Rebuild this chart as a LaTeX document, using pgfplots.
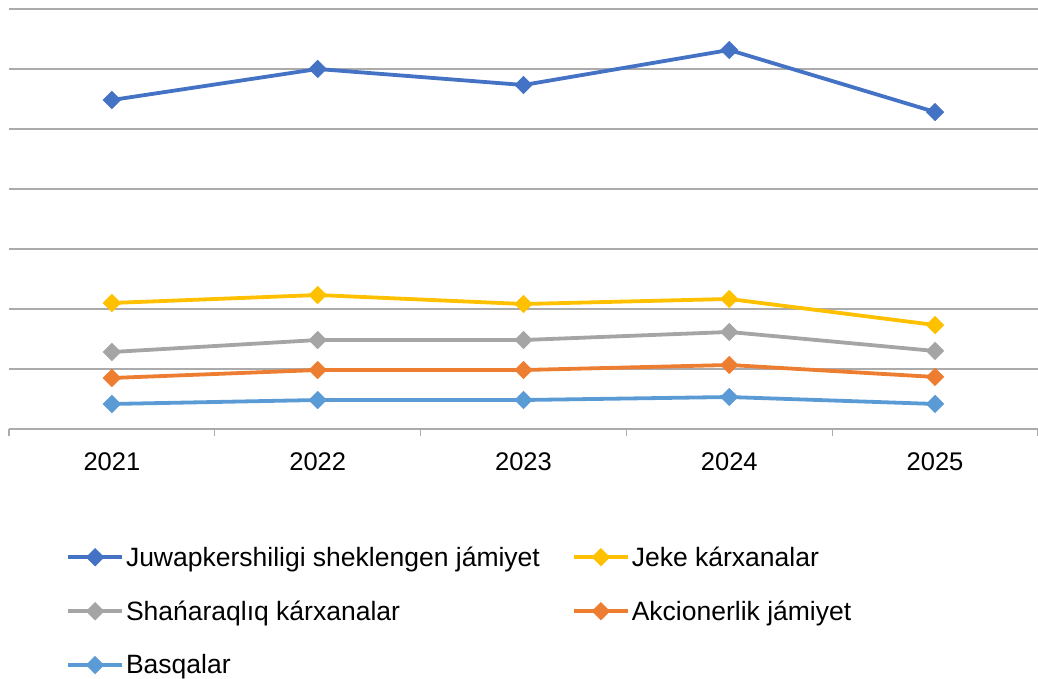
\documentclass[border=0pt]{standalone}
\usepackage{pgfplots}
\pgfplotsset{compat=1.18}
\usepackage{fontspec}
\setmainfont{Liberation Sans}
\definecolor{c1}{HTML}{4472C4}
\definecolor{c2}{HTML}{FFC000}
\definecolor{c3}{HTML}{A5A5A5}
\definecolor{c4}{HTML}{ED7D31}
\definecolor{c5}{HTML}{5B9BD5}
\definecolor{gridc}{HTML}{ABABAB}
\begin{document}
\begin{tikzpicture}[x=1bp,y=1bp]
\path[use as bounding box] (0,0) rectangle (1038,679);
\begin{axis}[
  at={(9bp,250bp)}, anchor=south west,
  scale only axis, width=1029bp, height=420bp,
  xmin=-0.5, xmax=4.5, ymin=0, ymax=7,
  axis line style={draw=none},
  ytick={0,1,...,7}, yticklabels={}, ytick style={draw=none},
  ymajorgrids, grid style={gridc, line width=1.3bp},
  xtick={0,1,2,3,4}, xticklabels={2021,2022,2023,2024,2025},
  xtick pos=bottom,
  major x tick style={draw=none},
  extra x ticks={-0.5,0.5,1.5,2.5,3.5,4.5}, extra x tick labels={},
  extra x tick style={grid=none, tick align=outside, major tick length=7bp,
     major x tick style={draw=gridc, line width=1.3bp}},
  xticklabel style={font=\fontsize{25.5bp}{30bp}\selectfont, yshift=-20bp},
  every axis plot/.append style={line width=3.8bp, mark=square*, mark size=4.6bp,
     mark options={rotate=45, solid}},
  legend columns=2,
  legend cell align=left,
  legend image code/.code={\draw[mark repeat=2,mark phase=2,#1] plot coordinates {(0bp,0bp)(27bp,0bp)(54bp,0bp)};},
  legend style={at={(axis description cs:0.0554,-0.275)}, anchor=north west,
     draw=none, fill=none, font=\fontsize{26.5bp}{30bp}\selectfont,
     row sep=29bp, column sep=0bp, inner sep=0bp,
     nodes={inner sep=2bp}},
]
\addplot[color=c1] coordinates {(0,5.483) (1,6.0) (2,5.733) (3,6.317) (4,5.283)};
\addlegendentry{\makebox[444bp][l]{Juwapkershiligi sheklengen jámiyet}}
\addplot[color=c2] coordinates {(0,2.10) (1,2.233) (2,2.083) (3,2.167) (4,1.733)};
\addlegendentry{Jeke kárxanalar}
\addplot[color=c3] coordinates {(0,1.283) (1,1.483) (2,1.483) (3,1.617) (4,1.30)};
\addlegendentry{\makebox[444bp][l]{Shańaraqlıq kárxanalar}}
\addplot[color=c4] coordinates {(0,0.85) (1,0.983) (2,0.983) (3,1.067) (4,0.867)};
\addlegendentry{Akcionerlik jámiyet}
\addplot[color=c5] coordinates {(0,0.417) (1,0.483) (2,0.483) (3,0.533) (4,0.417)};
\addlegendentry{\makebox[444bp][l]{Basqalar}}
\end{axis}
\end{tikzpicture}
\end{document}
